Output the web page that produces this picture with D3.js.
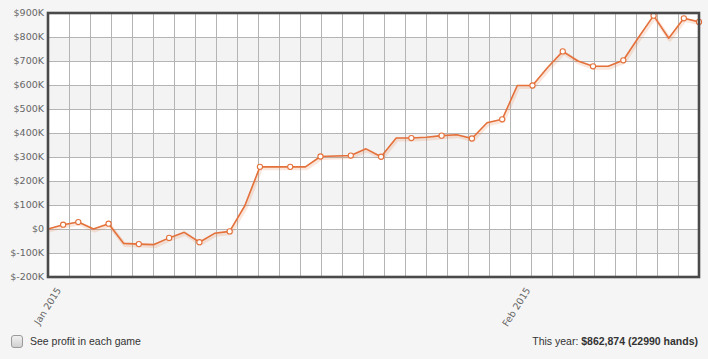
<!DOCTYPE html>
<html>
<head>
<meta charset="utf-8">
<script src="https://cdn.jsdelivr.net/npm/d3@7/dist/d3.min.js"></script>
<style>
  html, body { margin: 0; padding: 0; background: #f5f5f5; }
  svg { display: block; }
</style>
</head>
<body>
<svg id="chart" width="708" height="359"></svg>
<script>
// ---- data ----
const startDate = "2015-01-01";
const endDate = "2015-02-13";
// cumulative profit in $K per day
const profitK = [0, 18, 29, 0, 22, -60, -63, -65, -37, -14, -55, -18, -10, 97,
  259, 259, 259, 259, 302, 304, 306, 334, 301, 379, 379, 382, 389, 393, 377, 443,
  457, 598, 598, 673, 740, 700, 678, 678, 703, 798, 889, 795, 878, 863];
// which days show a marker circle
const marked = [0,1,1,0,1,0,1,0,1,0,1,0,1,0,1,0,1,0,1,0,1,0,1,0,1,0,1,0,1,0,
  1,0,1,0,1,0,1,0,1,0,1,0,1,1];
const yTicksK = [-200, -100, 0, 100, 200, 300, 400, 500, 600, 700, 800, 900];
const shadedBandsK = [[700, 800], [500, 600], [300, 400], [100, 200], [-100, 0]];
const gridColumns = 31;
const footerLeft = "See profit in each game";
const footerRightLabel = "This year: ";
const footerRightValue = "$862,874 (22990 hands)";

// ---- layout ----
const L = 48, R = 699, T = 13, B = 277;
const svg = d3.select("#chart");

const parse = d3.utcParse("%Y-%m-%d");
const days = d3.utcDays(parse(startDate), d3.utcDay.offset(parse(endDate), 1));
const data = days.map((d, i) => ({ date: d, v: profitK[i] * 1000, m: marked[i] }));

const x = d3.scaleUtc().domain([parse(startDate), parse(endDate)]).range([L, R]);
const y = d3.scaleLinear().domain([-200000, 900000]).range([B, T]);
const gx = d3.scaleLinear().domain([0, gridColumns]).range([L, R]);

// plot background
svg.append("rect").attr("x", L).attr("y", T).attr("width", R - L).attr("height", B - T).attr("fill", "#ffffff");
svg.append("g").selectAll("rect").data(shadedBandsK).join("rect")
  .attr("x", L).attr("width", R - L)
  .attr("y", d => y(d[1] * 1000))
  .attr("height", d => y(d[0] * 1000) - y(d[1] * 1000))
  .attr("fill", "#f3f3f3");

// gridlines
const grid = svg.append("g").attr("stroke", "#b4b4b4").attr("stroke-width", 1);
grid.selectAll("line.h").data(yTicksK).join("line").attr("class", "h")
  .attr("x1", L).attr("x2", R)
  .attr("y1", d => Math.round(y(d * 1000)) + 0.5).attr("y2", d => Math.round(y(d * 1000)) + 0.5);
grid.selectAll("line.v").data(d3.range(1, gridColumns)).join("line").attr("class", "v")
  .attr("y1", T).attr("y2", B)
  .attr("x1", d => Math.round(gx(d)) + 0.5).attr("x2", d => Math.round(gx(d)) + 0.5);

// y axis labels
const fmtK = v => "$" + (v / 1000) + "K";
svg.append("g").selectAll("text").data(yTicksK).join("text")
  .attr("x", 44).attr("y", d => y(d * 1000)).attr("dy", "0.35em")
  .attr("text-anchor", "end")
  .attr("font-family", "DejaVu Sans, Verdana, sans-serif").attr("font-size", 9.5)
  .attr("fill", "#666")
  .text(d => d === 0 ? "$0" : fmtK(d * 1000));

// x axis labels
const xAxis = d3.axisBottom(x).ticks(d3.utcMonth.every(1)).tickFormat(d3.utcFormat("%b %Y")).tickSize(0);
const xg = svg.append("g").attr("transform", `translate(0,${B})`).call(xAxis);
xg.select(".domain").remove();
xg.selectAll("text")
  .attr("font-family", "DejaVu Sans, Verdana, sans-serif").attr("font-size", 9.5)
  .attr("fill", "#666")
  .attr("text-anchor", "end")
  .attr("dy", null).attr("y", 0)
  .attr("transform", "translate(13,13) rotate(-58)");

// line
const line = d3.line().x(d => x(d.date)).y(d => y(d.v));
svg.append("path").datum(data).attr("d", line)
  .attr("fill", "none").attr("stroke", "#e8763f").attr("stroke-opacity", 0.18)
  .attr("stroke-width", 4).attr("stroke-linejoin", "round")
  .attr("transform", "translate(1,1.5)");
svg.append("path").datum(data).attr("d", line)
  .attr("fill", "none").attr("stroke", "#e4703a").attr("stroke-width", 1.6)
  .attr("stroke-linejoin", "round");

// markers
svg.append("g").selectAll("circle").data(data.filter(d => d.m)).join("circle")
  .attr("cx", d => x(d.date)).attr("cy", d => y(d.v)).attr("r", 2.6)
  .attr("fill", "#fff").attr("stroke", "#e4703a").attr("stroke-width", 1.1);

// frame
svg.append("rect").attr("x", L).attr("y", T).attr("width", R - L).attr("height", B - T)
  .attr("fill", "none").attr("stroke", "#4a4a4a").attr("stroke-width", 2.6);

// footer
const defs = svg.append("defs");
const grad = defs.append("linearGradient").attr("id", "cb").attr("x1", 0).attr("y1", 0).attr("x2", 0).attr("y2", 1);
grad.append("stop").attr("offset", "0%").attr("stop-color", "#f2f2f2");
grad.append("stop").attr("offset", "100%").attr("stop-color", "#cfcfcf");
svg.append("rect").attr("x", 11.5).attr("y", 335.5).attr("width", 11).attr("height", 12).attr("rx", 2.5)
  .attr("fill", "url(#cb)").attr("stroke", "#9a9a9a");
svg.append("text").attr("x", 30).attr("y", 345)
  .attr("font-family", "Liberation Sans, Arial, sans-serif").attr("font-size", 10.5).attr("fill", "#333")
  .text(footerLeft);
const ft = svg.append("text").attr("x", 698).attr("y", 345).attr("text-anchor", "end")
  .attr("font-family", "Liberation Sans, Arial, sans-serif").attr("font-size", 10.5).attr("fill", "#333");
ft.append("tspan").text(footerRightLabel);
ft.append("tspan").attr("font-weight", "bold").text(footerRightValue);
</script>
</body>
</html>
